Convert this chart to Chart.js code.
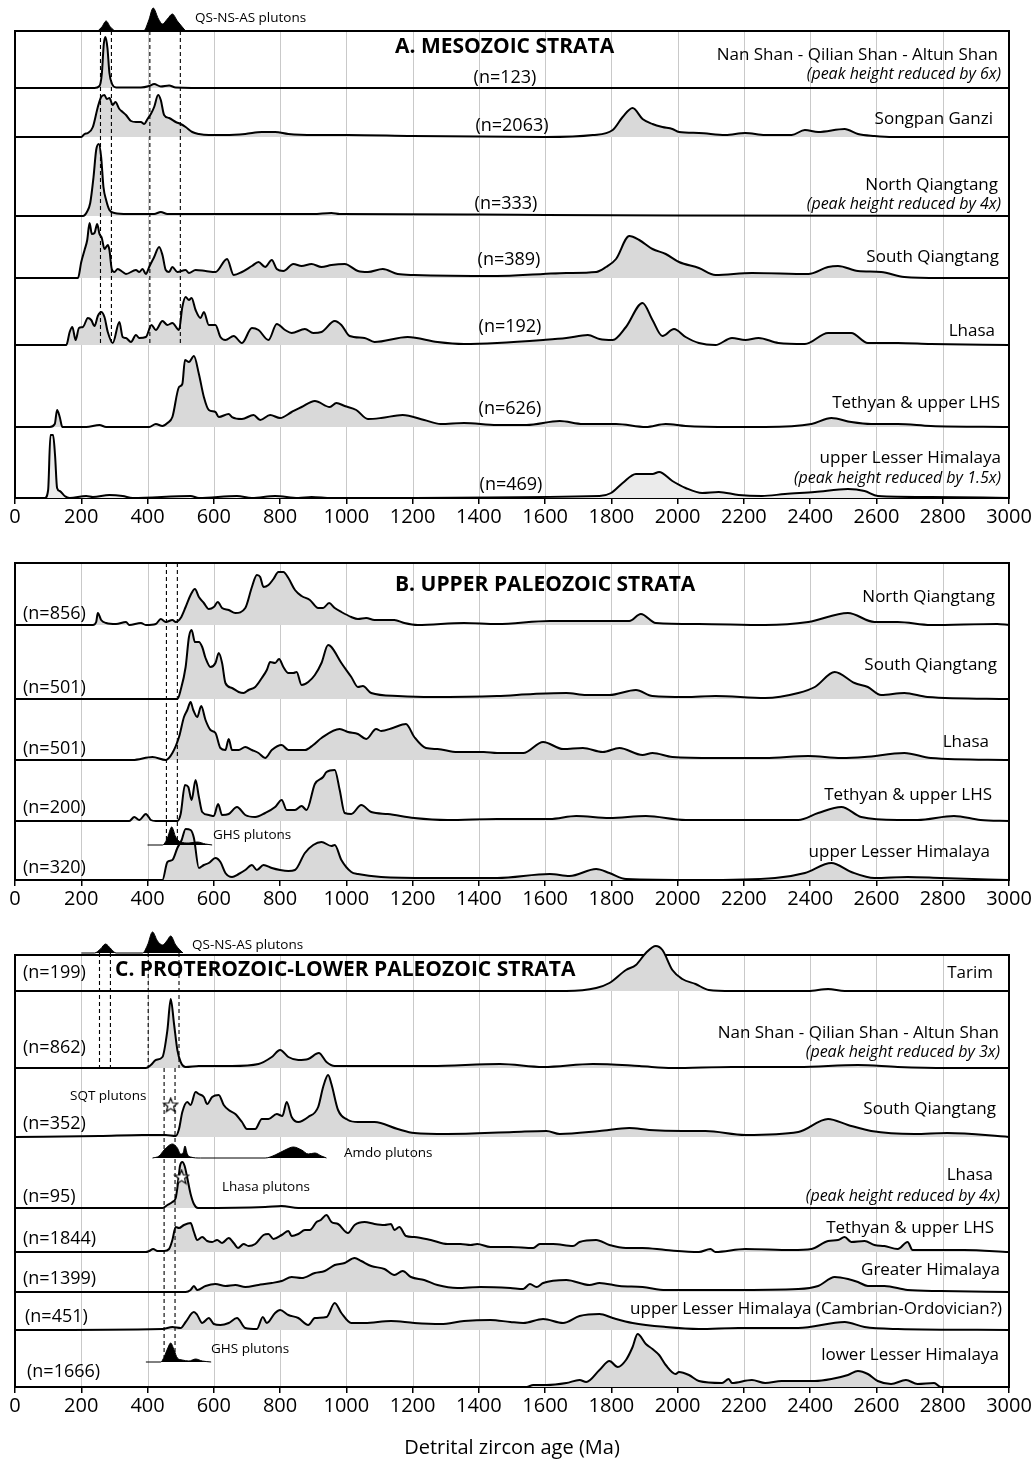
<!DOCTYPE html>
<html><head><meta charset="utf-8">
<script src="https://cdn.jsdelivr.net/npm/chart.js@4.4.1/dist/chart.umd.min.js"></script>
<style>
html,body{margin:0;padding:0;background:#fff;}
body{width:1036px;height:1461px;position:relative;overflow:hidden;}
canvas{position:absolute;left:0;}
</style></head><body>
<canvas id="cA" width="1036" height="540" style="top:0px"></canvas>
<canvas id="cB" width="1036" height="380" style="top:540px"></canvas>
<canvas id="cC" width="1036" height="541" style="top:920px"></canvas>
<script>
// ---------------- DATA (age Ma, relative probability height) ----------------
const xTicks = [0,200,400,600,800,1000,1200,1400,1600,1800,2000,2200,2400,2600,2800,3000];

// Panel A: Mesozoic strata
const aNames = ['Nan Shan - Qilian Shan - Altun Shan','Songpan Ganzi','North Qiangtang','South Qiangtang','Lhasa','Tethyan & upper LHS','upper Lesser Himalaya'];
const aCounts = [123,2063,333,389,192,626,469];
const aNotes = ['(peak height reduced by 6x)','','(peak height reduced by 4x)','','','','(peak height reduced by 1.5x)'];
const aNanShan = [[0,0],[240,0],[255,2],[262,14],[268,44],[273,51],[279,40],[285,15],[293,4],[305,0.5],[380,0.5],[405,2],[420,4],[440,1.5],[465,2.5],[485,0.5],[600,0],[3000,0]];
const aSongpan = [[0,0],[200,0],[210,3],[220,4],[235,10],[250,30],[260,40],[270,42],[277,38],[285,39],[295,32],[303,35],[315,28],[325,25],[335,22],[350,16],[365,15],[380,15],[390,13],[400,18],[410,23],[420,30],[432,42],[440,37],[450,22],[465,19],[485,15],[500,13],[515,10],[535,5],[555,3],[585,2],[635,2],[695,3],[745,5],[785,5],[825,3],[905,2],[1005,2],[1200,1],[1600,0],[1744,2],[1804,7],[1834,20],[1864,29],[1894,18],[1924,13],[1954,10],[1984,8],[2004,5],[2064,4],[2144,2],[2204,4],[2264,2],[2344,2],[2384,7],[2424,5],[2504,8],[2544,3],[2594,1],[2650,0],[3000,0]];
const aNorthQ = [[0,0],[205,0],[217,4],[227,13],[237,39],[245,66],[253,72],[260,59],[267,29],[275,16],[285,6],[300,3],[340,2],[420,2],[440,4],[460,2],[900,2],[955,3],[980,2],[1400,1.5],[1600,1],[2000,0.5],[3000,0]];
const aSouthQ = [[0,0],[190,0],[200,16],[210,28],[218,38],[225,55],[232,44],[240,45],[248,54],[255,44],[262,40],[270,29],[280,33],[285,28],[292,9],[300,6],[310,9],[325,6],[335,4],[365,8],[375,6],[385,9],[395,4],[405,11],[420,21],[435,31],[445,23],[455,8],[465,6],[475,11],[490,6],[515,8],[525,5],[545,8],[575,7],[605,6],[640,19],[660,3],[685,6],[715,12],[735,16],[755,11],[775,18],[790,9],[810,7],[840,14],[865,12],[895,14],[925,11],[955,13],[995,14],[1035,7],[1065,6],[1110,9],[1155,4],[1205,3],[1455,2],[1594,4],[1664,5],[1754,6],[1784,11],[1814,19],[1854,42],[1884,38],[1924,29],[1964,24],[2004,16],[2064,10],[2114,3],[2224,5],[2394,4],[2454,11],[2484,12],[2544,7],[2614,6],[2684,1],[2794,0],[3000,0]];
const aLhasa = [[0,0],[155,0],[165,13],[173,18],[183,5],[193,17],[205,18],[220,27],[230,25],[240,19],[250,29],[260,33],[270,28],[280,13],[295,2],[315,23],[325,8],[335,7],[350,3],[365,10],[375,7],[395,8],[412,20],[425,15],[445,24],[460,20],[475,22],[495,15],[505,38],[515,48],[525,45],[533,47],[545,35],[560,27],[570,33],[585,20],[605,20],[620,8],[635,5],[660,9],[685,2],[715,17],[735,15],[765,5],[790,21],[815,15],[835,12],[875,16],[900,12],[925,13],[965,24],[985,20],[1010,9],[1055,7],[1085,3],[1185,8],[1275,3],[1355,1],[1455,2],[1594,5],[1664,7],[1729,10],[1764,6],[1804,5],[1844,18],[1894,42],[1924,25],[1954,9],[1989,16],[2024,8],[2064,2],[2114,0],[2164,7],[2204,5],[2244,7],[2304,2],[2384,1],[2454,12],[2504,12],[2524,12],[2574,2],[2664,2],[2764,1],[3000,0]];
const aTethyan = [[0,0],[105,0],[120,3],[127,17],[135,10],[143,0],[215,0],[255,2],[275,0],[405,0],[425,3],[445,1],[460,4],[475,10],[495,40],[505,43],[513,67],[525,65],[540,71],[555,53],[570,30],[585,17],[605,15],[615,10],[645,13],[655,10],[685,8],[720,12],[740,7],[770,12],[800,9],[835,15],[865,20],[905,26],[950,20],[970,24],[995,21],[1030,17],[1065,8],[1105,9],[1170,12],[1235,7],[1285,3],[1355,4],[1455,2],[1544,2],[1644,6],[1714,3],[1814,3],[1904,0],[1964,3],[2024,1],[2164,0],[2264,0],[2404,3],[2464,9],[2524,5],[2584,3],[2664,3],[2764,1],[3000,0]];
const aUpperLH = [[0,0],[90,0],[100,8],[107,63],[115,63],[121,42],[127,10],[135,7],[150,2],[165,0],[215,2],[235,1],[285,3],[325,2],[355,0],[530,2],[555,0],[670,2],[715,0],[785,2],[855,0],[895,1],[955,0],[1764,2],[1799,5],[1834,15],[1874,24],[1924,24],[1944,26],[1984,17],[2024,10],[2074,5],[2124,6],[2184,3],[2254,2],[2324,4],[2414,6],[2514,9],[2564,7],[2604,2],[2764,1],[3000,0]];
const aQsPlutons = [[250,0],[262,4],[275,10],[288,4],[305,0],[388,0],[403,10],[417,23],[433,12],[445,7],[460,12],[475,17],[490,10],[515,0]];
const aDashAges = [258,291,407,499];

// Panel B: Upper Paleozoic strata
const bNames = ['North Qiangtang','South Qiangtang','Lhasa','Tethyan & upper LHS','upper Lesser Himalaya'];
const bCounts = [856,501,501,200,320];
const bNorthQ = [[0,0],[235,0],[245,3],[250,12],[260,5],[275,2],[305,1],[335,3],[345,0],[380,2],[395,0],[425,1],[440,6],[455,3],[475,5],[485,3],[500,7],[515,18],[530,30],[543,36],[555,28],[570,22],[585,16],[600,18],[612,23],[625,17],[645,15],[665,12],[695,17],[715,38],[730,50],[740,48],[750,38],[765,40],[780,46],[795,53],[810,53],[825,47],[845,35],[865,29],[890,25],[915,17],[930,17],[948,22],[965,17],[985,13],[1015,8],[1035,6],[1060,7],[1085,5],[1145,5],[1175,2],[1215,0],[1355,2],[1455,1],[1614,4],[1764,4],[1854,4],[1889,11],[1934,2],[2064,1],[2264,0],[2394,3],[2514,12],[2594,3],[2664,3],[2764,0],[2964,1],[3000,0]];
const bSouthQ = [[0,0],[490,0],[500,9],[515,32],[525,62],[533,69],[543,57],[555,57],[565,52],[575,41],[590,32],[605,36],[615,46],[625,36],[635,16],[655,11],[675,7],[690,6],[705,9],[725,12],[745,21],[760,29],[770,37],[785,36],[797,40],[810,32],[825,26],[840,26],[850,27],[865,14],[885,17],[905,24],[925,36],[945,54],[955,52],[985,36],[1015,22],[1035,12],[1050,13],[1075,6],[1155,3],[1255,2],[1455,3],[1564,5],[1664,6],[1724,4],[1794,4],[1874,9],[1924,3],[2024,2],[2114,3],[2264,1],[2364,6],[2414,12],[2474,27],[2534,16],[2574,12],[2614,4],[2684,6],[2754,2],[3000,0]];
const bLhasa = [[0,0],[355,0],[415,3],[455,0],[475,7],[495,23],[510,43],[520,50],[530,58],[538,50],[550,43],[562,54],[575,40],[590,30],[605,27],[620,12],[635,10],[645,21],[655,10],[675,10],[695,13],[715,10],[735,7],[755,2],[775,10],[805,15],[825,10],[875,10],[900,15],[925,22],[980,31],[1005,28],[1035,26],[1060,21],[1090,31],[1105,29],[1140,32],[1180,36],[1205,23],[1240,12],[1275,11],[1335,8],[1415,8],[1455,7],[1534,7],[1594,18],[1654,11],[1714,12],[1774,8],[1824,12],[1894,5],[1924,7],[1984,3],[2114,2],[2264,2],[2394,4],[2494,2],[2564,3],[2684,7],[2764,2],[3000,0]];
const bTethyan = [[0,0],[345,0],[360,4],[375,1],[395,7],[410,1],[425,0],[490,0],[500,7],[513,36],[523,34],[533,21],[545,41],[555,24],[565,9],[585,6],[600,5],[613,17],[625,6],[645,7],[670,14],[695,6],[725,4],[755,8],[785,14],[805,21],[820,11],[845,11],[865,15],[880,11],[905,37],[930,44],[940,49],[965,51],[980,31],[995,8],[1015,7],[1045,16],[1075,9],[1125,7],[1205,3],[1305,1],[1455,2],[1614,2],[1694,5],[1794,3],[1904,5],[2024,1],[2164,1],[2364,1],[2424,8],[2494,14],[2554,4],[2664,1],[2724,1],[2834,5],[2914,1],[3000,0]];
const bUpperLH = [[0,0],[445,0],[460,18],[475,20],[490,32],[503,40],[515,51],[530,50],[540,42],[555,12],[570,15],[585,17],[605,22],[620,18],[635,7],[655,3],[675,6],[695,10],[715,15],[730,10],[750,15],[775,12],[800,10],[825,9],[845,10],[875,27],[900,35],[925,38],[955,34],[965,35],[985,20],[1015,8],[1035,6],[1105,3],[1255,2],[1455,2],[1614,6],[1674,4],[1754,11],[1794,7],[1844,1],[2064,0],[2294,2],[2384,7],[2464,17],[2524,8],[2594,2],[2694,3],[2794,2],[3000,0]];
const bGhsPlutons = [[400,0],[445,0],[450,1],[460,7],[473,18],[485,8],[500,3],[525,2],[550,3],[575,1],[595,0]];
const bDashAges = [457,490];

// Panel C: Proterozoic - Lower Paleozoic strata
const cNames = ['Tarim','Nan Shan - Qilian Shan - Altun Shan','South Qiangtang','Lhasa','Tethyan & upper LHS','Greater Himalaya','upper Lesser Himalaya (Cambrian-Ordovician?)','lower Lesser Himalaya'];
const cCounts = [199,862,352,95,1844,1399,451,1666];
const cNotes = ['','(peak height reduced by 3x)','','(peak height reduced by 4x)','','','',''];
const cTarim = [[0,0],[1664,0],[1754,3],[1794,8],[1844,21],[1874,26],[1904,38],[1934,45],[1954,41],[1984,21],[2014,12],[2054,7],[2094,1],[2164,0],[2394,0],[2454,2],[2504,0],[3000,0]];
const cNanShan = [[0,0],[395,0],[410,3],[425,8],[445,11],[460,38],[470,69],[480,44],[490,18],[500,6],[515,1],[555,2],[655,2],[735,4],[775,11],[800,18],[825,11],[855,8],[885,9],[917,15],[940,6],[965,2],[1255,2],[1464,4],[1594,1],[1744,4],[1884,2],[1984,0],[2164,1],[2364,1],[2544,3],[2664,1],[2814,0],[3000,0]];
const cSouthQ = [[0,0],[255,1],[385,2],[455,2],[485,1],[495,8],[505,25],[520,35],[530,32],[545,45],[555,43],[570,40],[580,33],[595,40],[615,42],[630,32],[645,27],[665,23],[685,15],[700,8],[725,8],[745,18],[765,18],[790,23],[807,21],[820,35],[835,20],[855,15],[885,20],[915,30],[930,50],[945,62],[955,53],[975,27],[1005,17],[1035,15],[1085,15],[1155,8],[1205,4],[1305,3],[1505,5],[1604,6],[1644,3],[1764,6],[1854,9],[1914,7],[2014,6],[2084,6],[2204,2],[2364,5],[2454,18],[2514,12],[2584,6],[2714,3],[2814,4],[3000,0]];
const cLhasa = [[0,0],[445,0],[460,3],[475,6],[485,10],[492,25],[498,42],[505,46],[512,42],[520,30],[530,14],[540,4],[552,0],[755,1],[805,2],[855,0],[3000,0]];
const cTethyan = [[0,0],[395,0],[405,1],[417,3],[430,1],[450,1],[465,3],[475,12],[485,25],[495,24],[510,27],[530,29],[540,20],[550,12],[565,15],[580,11],[595,10],[610,12],[625,9],[645,14],[660,9],[673,4],[690,8],[705,6],[725,8],[750,17],[765,18],[780,13],[805,17],[825,21],[835,16],[855,18],[875,22],[890,22],[910,30],[923,32],[940,37],[955,30],[975,28],[1005,19],[1025,27],[1055,30],[1085,28],[1115,27],[1135,28],[1145,22],[1160,25],[1180,16],[1205,15],[1255,12],[1305,8],[1345,8],[1375,7],[1395,8],[1435,5],[1495,5],[1564,4],[1584,8],[1624,8],[1684,6],[1704,10],[1754,12],[1794,7],[1844,4],[1894,4],[1964,2],[2064,0],[2099,3],[2114,0],[2204,3],[2344,2],[2404,3],[2454,11],[2484,12],[2504,15],[2524,10],[2564,11],[2594,7],[2624,6],[2664,3],[2694,10],[2709,2],[2764,2],[2864,2],[3000,0]];
const cGreaterH = [[0,0],[515,0],[530,2],[540,6],[550,2],[575,6],[605,8],[635,6],[665,7],[695,5],[735,7],[775,9],[805,11],[835,15],[865,14],[905,19],[935,21],[965,27],[995,29],[1025,34],[1045,31],[1075,26],[1115,23],[1145,17],[1170,21],[1195,15],[1235,12],[1275,7],[1335,4],[1405,5],[1495,4],[1534,3],[1554,8],[1574,5],[1594,9],[1664,12],[1734,7],[1764,9],[1824,6],[1894,5],[1964,2],[2164,2],[2364,3],[2424,6],[2474,15],[2514,13],[2544,10],[2574,6],[2624,6],[2694,2],[2794,1],[3000,0]];
const cUpperLH = [[0,0],[445,1],[475,3],[500,2],[515,8],[540,18],[550,15],[565,7],[585,12],[600,6],[620,5],[645,7],[670,12],[695,2],[730,1],[748,13],[760,7],[785,17],[800,20],[825,15],[855,12],[885,5],[905,12],[940,13],[965,27],[985,17],[1015,7],[1055,7],[1135,9],[1205,7],[1285,6],[1355,9],[1435,10],[1495,8],[1534,7],[1594,11],[1654,7],[1704,14],[1764,16],[1804,12],[1864,7],[1964,3],[2064,1],[2184,2],[2364,2],[2504,8],[2564,3],[2664,1],[3000,0]];
const cLowerLH = [[0,0],[1544,0],[1564,2],[1604,2],[1664,4],[1704,7],[1724,5],[1764,17],[1794,26],[1819,20],[1844,27],[1864,40],[1879,53],[1904,43],[1924,38],[1944,32],[1964,22],[1994,13],[2004,15],[2034,12],[2064,6],[2134,4],[2154,8],[2164,4],[2224,7],[2264,4],[2314,6],[2414,6],[2464,8],[2514,12],[2544,16],[2574,13],[2604,6],[2644,3],[2689,7],[2724,3],[2774,4],[2794,0],[3000,0]];
const cQsPlutons = [[200,0],[240,0],[258,4],[273,9],[290,4],[305,0],[385,0],[400,8],[415,21],[430,12],[445,8],[458,12],[470,17],[485,8],[507,0]];
const cAmdoPlutons = [[415,0],[435,2],[450,8],[475,14],[490,10],[500,4],[507,5],[513,12],[520,4],[530,1],[560,0],[755,0],[785,3],[815,8],[840,11],[865,8],[885,4],[905,5],[925,2],[940,0]];
const cGhsPlutons = [[395,0],[440,0],[450,5],[460,13],[470,19],[480,12],[490,4],[505,2],[525,1],[545,3],[565,1],[592,0]];
const cSqtStarAge = 470;
const cLhasaStarAge = 503;
const cDashAgesTop = [255,288,402,495];
const cDashAgesLow = [450,483];

// ---------------- LAYOUT / STYLE ----------------
const FONT = '"Open Sans", "Noto Sans", sans-serif';
const FILL = '#d9d9d9';
const starImg = (() => {
  const c = document.createElement('canvas'); c.width = 17; c.height = 17;
  const g = c.getContext('2d');
  g.beginPath();
  for (let i = 0; i < 10; i++) {
    const r = i % 2 === 0 ? 7.4 : 3.1;
    const a = -Math.PI / 2 + i * Math.PI / 5;
    const px = 8.5 + r * Math.cos(a), py = 9 + r * Math.sin(a);
    if (i) g.lineTo(px, py); else g.moveTo(px, py);
  }
  g.closePath(); g.fillStyle = '#fff'; g.fill();
  g.lineWidth = 1.2; g.strokeStyle = '#000'; g.stroke();
  return c;
})();

function curve(pairs, base, color) {
  return {
    data: pairs.map(p => ({x: p[0], y: base + p[1]})),
    borderColor: '#000', borderWidth: 2, backgroundColor: color || FILL,
    fill: {value: base}, pointRadius: 0, cubicInterpolationMode: 'monotone'
  };
}
function pluton(pairs, base) {
  return {
    data: pairs.map(p => ({x: p[0], y: base + p[1]})),
    borderColor: '#000', borderWidth: 1, backgroundColor: '#000',
    fill: {value: base}, pointRadius: 0, cubicInterpolationMode: 'monotone'
  };
}
function dash(age, y0, y1) {
  return {
    data: [{x: age, y: y0}, {x: age, y: y1}],
    borderColor: '#000', borderWidth: 1.1, borderDash: [4, 3], fill: false, pointRadius: 0
  };
}
function star(age, yv) {
  return {data: [{x: age, y: yv}], showLine: false, pointRadius: 8, pointStyle: starImg, fill: false};
}

function makeChart(id, P) {
  const plug = {
    id: 'deco' + id,
    beforeDatasetsDraw(chart) {
      const {ctx, chartArea: {left, right, bottom}, scales: {x, y}} = chart;
      const top = y.getPixelForValue(P.box);
      ctx.save();
      ctx.strokeStyle = '#c9c9c9'; ctx.lineWidth = 1;
      xTicks.forEach(v => {
        if (v > 0 && v < 3000) {
          const px = Math.round(x.getPixelForValue(v)) + 0.5;
          ctx.beginPath(); ctx.moveTo(px, top); ctx.lineTo(px, bottom); ctx.stroke();
        }
      });
      ctx.strokeStyle = '#000'; ctx.lineWidth = 2;
      ctx.strokeRect(left, top, right - left, bottom - top);
      ctx.restore();
    },
    afterDatasetsDraw(chart) {
      const ctx = chart.ctx;
      ctx.save();
      ctx.fillStyle = '#000'; ctx.textBaseline = 'middle';
      P.texts.forEach(t => {
        ctx.font = t.f;
        ctx.textAlign = t.a;
        ctx.fillText(t.s, t.x, t.y - P.canvasTop);
      });
      ctx.restore();
    }
  };
  return new Chart(document.getElementById(id), {
    type: 'line',
    data: {datasets: P.datasets},
    options: {
      responsive: false, animation: false, events: [],
      layout: {padding: {top: P.padTop, left: 15, right: 27, bottom: 0}},
      plugins: {legend: {display: false}, tooltip: {enabled: false}},
      scales: {
        x: {
          type: 'linear', min: 0, max: 3000,
          afterBuildTicks: s => { s.ticks = xTicks.map(v => ({value: v})); },
          afterFit: s => { s.height = P.axisH; },
          ticks: {color: '#000', font: {family: FONT, size: 20}, padding: 1, maxRotation: 0, autoSkip: false, callback: v => String(v)},
          grid: {drawOnChartArea: false, drawTicks: true, tickLength: 6, color: '#000', lineWidth: 1.5},
          border: {display: true, color: '#000', width: 2},
          title: P.title ? {display: true, text: P.title, color: '#000', font: {family: FONT, size: 20}, padding: {top: 0, bottom: 1}} : {display: false}
        },
        y: {type: 'linear', display: false, min: 0, max: P.max}
      }
    },
    plugins: [plug]
  });
}

const F = {
  name: '17px ' + FONT, note: 'italic 16px ' + FONT, n: '18px ' + FONT,
  title: 'bold 21px ' + FONT, small: '13.5px ' + FONT
};

// ----- Panel A -----
const baseA = [410, 361, 282, 220, 153, 71, 0];
const aSeries = [aNanShan, aSongpan, aNorthQ, aSouthQ, aLhasa, aTethyan, aUpperLH];
const aNameY = [55, 119, 185, 257, 331, 403, 458];
const aNameR = [998, 993, 998, 999, 995, 1000, 1001];
const aNoteY = [74, 0, 204, 0, 0, 0, 478];
const aNX = [505, 512, 506, 509, 510, 510, 511];
const aNY = [78, 126, 204, 260, 327, 409, 485];
const dsA = [pluton(aQsPlutons, 467)];
aDashAges.forEach(a => dsA.push(dash(a, 467, 153)));
aSeries.forEach((s, i) => dsA.push(curve(s, baseA[i], i === 6 ? '#ebebeb' : FILL)));
const txA = [{s: 'A. MESOZOIC STRATA', x: 395, y: 47, a: 'left', f: F.title},
             {s: 'QS-NS-AS plutons', x: 195, y: 18, a: 'left', f: F.small}];
aNames.forEach((n, i) => {
  txA.push({s: n, x: aNameR[i], y: aNameY[i], a: 'right', f: F.name});
  if (aNotes[i]) txA.push({s: aNotes[i], x: 1001, y: aNoteY[i], a: 'right', f: F.note});
  txA.push({s: '(n=' + aCounts[i] + ')', x: aNX[i], y: aNY[i], a: 'center', f: F.n});
});
makeChart('cA', {canvasTop: 0, padTop: 4, axisH: 42, max: 494, box: 467, datasets: dsA, texts: txA});

// ----- Panel B -----
const baseB = [255, 181, 120, 59, 0];
const bSeries = [bNorthQ, bSouthQ, bLhasa, bTethyan, bUpperLH];
const bNameY = [597, 665, 742, 795, 852];
const bNameR = [995, 997, 989, 992, 990];
const bNY = [614, 688, 749, 808, 868];
const dsB = [pluton(bGhsPlutons, 35)];
bDashAges.forEach(a => dsB.push(dash(a, 317, 40)));
bSeries.forEach((s, i) => dsB.push(curve(s, baseB[i])));
const txB = [{s: 'B. UPPER PALEOZOIC STRATA', x: 395, y: 585, a: 'left', f: F.title},
             {s: 'GHS plutons', x: 213, y: 835, a: 'left', f: F.small}];
bNames.forEach((n, i) => {
  txB.push({s: n, x: bNameR[i], y: bNameY[i], a: 'right', f: F.name});
  txB.push({s: '(n=' + bCounts[i] + ')', x: 23, y: bNY[i], a: 'left', f: F.n});
});
makeChart('cB', {canvasTop: 540, padTop: 23, axisH: 40, max: 317, box: 317, datasets: dsB, texts: txB});

// ----- Panel C -----
const baseC = [396, 319, 250, 179, 135, 95, 57, 0];
const cSeries = [cTarim, cNanShan, cSouthQ, cLhasa, cTethyan, cGreaterH, cUpperLH, cLowerLH];
const cNameY = [973, 1033, 1109, 1175, 1228, 1270, 1309, 1355];
const cNameR = [993, 999, 996, 993, 994, 1000, 1002, 999];
const cNoteY = [0, 1052, 0, 1196, 0, 0, 0, 0];
const cNXs = [23, 23, 23, 23, 23, 23, 25, 27];
const cNY = [973, 1048, 1124, 1197, 1239, 1279, 1317, 1372];
const dsC = [star(cSqtStarAge, 282), star(cLhasaStarAge, 210),
             pluton(cQsPlutons, 434), pluton(cAmdoPlutons, 229), pluton(cGhsPlutons, 25)];
cDashAgesTop.forEach(a => dsC.push(dash(a, 434, 319)));
cDashAgesLow.forEach(a => dsC.push(dash(a, 319, 30)));
cSeries.forEach((s, i) => dsC.push(curve(s, baseC[i])));
const txC = [{s: 'C. PROTEROZOIC-LOWER PALEOZOIC STRATA', x: 115, y: 970, a: 'left', f: F.title},
             {s: 'QS-NS-AS plutons', x: 192, y: 945, a: 'left', f: F.small},
             {s: 'SQT plutons', x: 70, y: 1096, a: 'left', f: F.small},
             {s: 'Amdo plutons', x: 344, y: 1153, a: 'left', f: F.small},
             {s: 'Lhasa plutons', x: 222, y: 1187, a: 'left', f: F.small},
             {s: 'GHS plutons', x: 211, y: 1349, a: 'left', f: F.small}];
cNames.forEach((n, i) => {
  txC.push({s: n, x: cNameR[i], y: cNameY[i], a: 'right', f: F.name});
  if (cNotes[i]) txC.push({s: cNotes[i], x: 1000, y: cNoteY[i], a: 'right', f: F.note});
  txC.push({s: '(n=' + cCounts[i] + ')', x: cNXs[i], y: cNY[i], a: 'left', f: F.n});
});
makeChart('cC', {canvasTop: 920, padTop: 10, axisH: 74, max: 457, box: 432, datasets: dsC, texts: txC, title: 'Detrital zircon age (Ma)'});
</script>
</body></html>
